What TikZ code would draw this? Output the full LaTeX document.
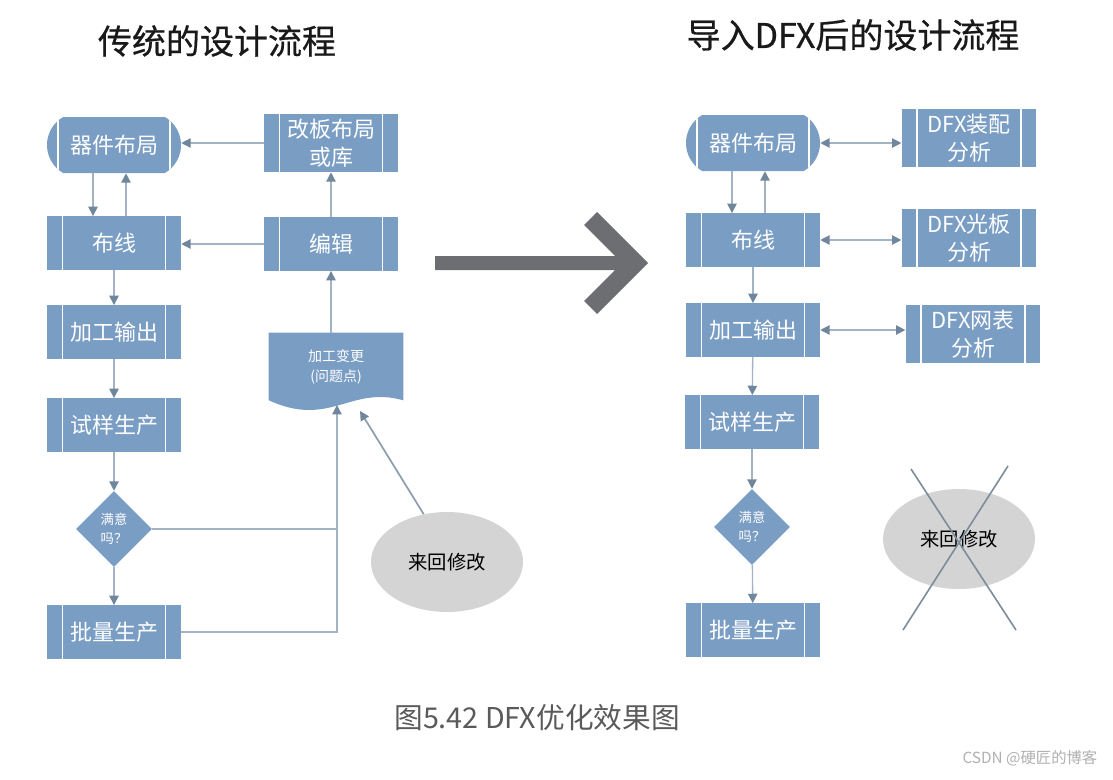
\documentclass[tikz,border=0pt]{standalone}
\usepackage{fontspec}
\setmainfont{Noto Sans CJK SC}
\newfontfamily\headfont[FakeBold=0.6]{Noto Sans CJK SC}
\usetikzlibrary{arrows.meta,shapes.geometric,shapes.misc,backgrounds}

\definecolor{boxblue}{HTML}{7A9DC4}
\definecolor{linec}{HTML}{A3B3C3}
\definecolor{tipc}{HTML}{6F869C}
\definecolor{bigarrow}{HTML}{6D6E72}
\definecolor{loopgray}{HTML}{D4D4D4}
\definecolor{crossc}{HTML}{7C8C9B}
\definecolor{capgray}{HTML}{5A5A5A}
\definecolor{wmgray}{HTML}{B0B0B0}

\begin{document}
\begin{tikzpicture}[x=0.75pt,y=-0.75pt,
    proc/.style={fill=boxblue,text=white,minimum width=100.5pt,minimum height=40pt,inner sep=0pt,align=center,
        font=\fontsize{16.5}{21}\selectfont,
        path picture={\draw[white,line width=1.2pt]
            ([xshift=11.5pt]path picture bounding box.north west) -- ([xshift=11.5pt]path picture bounding box.south west)
            ([xshift=-11.5pt]path picture bounding box.north east) -- ([xshift=-11.5pt]path picture bounding box.south east);}},
    term/.style={proc,rounded rectangle,rounded rectangle arc length=120,minimum height=42pt},
    dfx/.style={proc,minimum width=101pt,minimum height=43pt},
    dec/.style={diamond,fill=boxblue,text=white,minimum width=57pt,minimum height=57pt,inner sep=0pt,align=center,
        font=\fontsize{10}{14}\selectfont},
    docbox/.style={minimum width=100.5pt,minimum height=50.25pt,inner sep=0pt,text=white,align=center,
        font=\fontsize{10.5}{15}\selectfont},
    loopnode/.style={ellipse,fill=loopgray,minimum width=114pt,minimum height=75pt,font=\fontsize{14.5}{18}\selectfont},
    flow/.style={draw=linec,line width=1pt,-{Triangle[length=7pt,width=7pt,color=tipc]}},
    biflow/.style={draw=linec,line width=1pt,{Triangle[length=7pt,width=7pt,color=tipc]}-{Triangle[length=7pt,width=7pt,color=tipc]}},
    title/.style={font=\headfont\fontsize{25.5}{30}\selectfont,text=black!90}]

    \useasboundingbox (0,0) rectangle (1113,779);

    %titles
        \node[title] (t1) at (217,41) {传统的设计流程};
        \node[title] (t2) at (853,35) {导入DFX后的设计流程};

    %traditional flow
        \node[term] (lay1) at (114,145) {器件布局};
        \node[proc,minimum height=43.5pt] (rev) at (331,143) {改板布局\\或库};
        \node[proc] (route1) at (114,243) {布线};
        \node[proc] (edit) at (331,244) {编辑};
        \node[proc] (out1) at (114,332) {加工输出};
        \node[proc] (trial1) at (114,425) {试样生产};
        \node[dec] (ok1) at (114,529) {满意\\吗？};
        \node[proc] (batch1) at (114,632) {批量生产};
        \node[docbox] (chg) at (336,366.5) {加工变更\\(问题点)};
        \begin{scope}[on background layer]
            \fill[boxblue] (chg.north west) -- (chg.north east) -- (chg.south east)
                .. controls +(-53,-15) and +(61,28) .. (chg.south west) -- cycle;
        \end{scope}
        \coordinate (chgw) at (337,405);
        \coordinate (hit) at (360,411);
        \node[loopnode] (loop1) at (447,562) {来回修改};

        \draw[flow] (rev.west) -- (rev.west -| lay1.east);
        \draw[flow] ([xshift=-15.75pt]lay1.south) -- ([xshift=-15.75pt]route1.north);
        \draw[flow] ([xshift=9pt]route1.north) -- ([xshift=9pt]lay1.south);
        \draw[flow] (edit.west) -- (edit.west -| route1.east);
        \draw[flow] (edit.north) -- (rev.south);
        \draw[flow] (edit.south |- chg.north) -- (edit.south);
        \draw[flow] (route1) -- (out1);
        \draw[flow] (out1) -- (trial1);
        \draw[flow] (trial1) -- (ok1);
        \draw[flow] (ok1) -- (batch1);
        \draw[draw=linec,line width=1pt] (ok1.east) -- (ok1.east -| chgw);
        \draw[flow] (batch1.east) -| (chgw);
        \draw[flow,line width=1.3pt,draw=tipc!80] (loop1.116) -- (hit);

    %big arrow
        \fill[bigarrow] (435,256) -- (615,256) -- (584,225) -- (597,212) -- (648,263)
            -- (597,314) -- (584,301) -- (615,270) -- (435,270) -- cycle;

    %DFX flow
        \node[term] (lay2) at (753,143) {器件布局};
        \node[dfx] (asm) at (969,138) {DFX装配\\分析};
        \node[proc] (route2) at (753,240) {布线};
        \node[dfx] (pan) at (969,238) {DFX光板\\分析};
        \node[proc] (out2) at (753,330) {加工输出};
        \node[dfx] (net) at (973,334) {DFX网表\\分析};
        \node[proc] (trial2) at (752,422) {试样生产};
        \node[dec] (ok2) at (752,527) {满意\\吗？};
        \node[proc] (batch2) at (753,630) {批量生产};
        \node[loopnode] (loop2) at (959,539) {来回修改};

        \draw[biflow] (lay2.east) -- (lay2.east -| asm.west);
        \draw[biflow] (route2.east) -- (route2.east -| pan.west);
        \draw[biflow] (out2.east) -- (out2.east -| net.west);
        \draw[flow] ([xshift=-15.75pt]lay2.south) -- ([xshift=-15.75pt]route2.north);
        \draw[flow] ([xshift=9pt]route2.north) -- ([xshift=9pt]lay2.south);
        \draw[flow] (route2) -- (out2);
        \draw[flow] (out2) -- (trial2);
        \draw[flow] (trial2) -- (ok2);
        \draw[flow] (ok2) -- (batch2);

    %cross out
        \draw[crossc,line width=1.2pt] (911,469) -- (1016,630);
        \draw[crossc,line width=1.2pt] (1008,466) -- (903,630);

    %caption
        \node[font=\fontsize{21.5}{24}\selectfont,text=capgray] (cap) at (537,718) {图5.42 DFX优化效果图};
        \node[font=\fontsize{11.5}{14}\selectfont,text=wmgray,anchor=east] (wm) at (1102,758) {CSDN @硬匠的博客};

\end{tikzpicture}
\end{document}
